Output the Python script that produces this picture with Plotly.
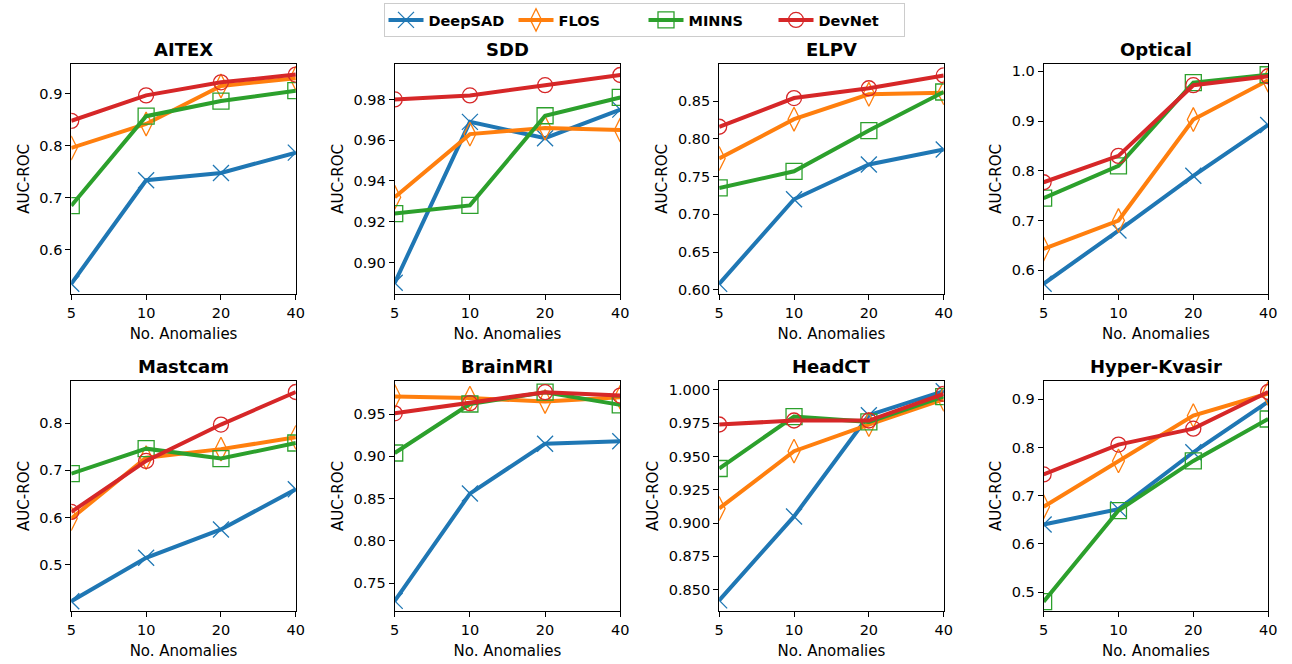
import plotly.graph_objects as go

x_labels = ["5", "10", "20", "40"]
datasets = ["AITEX", "SDD", "ELPV", "Optical", "Mastcam", "BrainMRI", "HeadCT", "Hyper-Kvasir"]
methods = ["DeepSAD", "FLOS", "MINNS", "DevNet"]

deepsad = {
    "AITEX": [0.535, 0.734, 0.748, 0.787],
    "SDD": [0.890, 0.969, 0.961, 0.975],
    "ELPV": [0.608, 0.720, 0.766, 0.786],
    "Optical": [0.573, 0.680, 0.790, 0.892],
    "Mastcam": [0.423, 0.515, 0.575, 0.660],
    "BrainMRI": [0.729, 0.856, 0.915, 0.918],
    "HeadCT": [0.842, 0.905, 0.981, 0.999],
    "Hyper-Kvasir": [0.640, 0.672, 0.790, 0.895],
}
flos = {
    "AITEX": [0.796, 0.842, 0.915, 0.930],
    "SDD": [0.932, 0.963, 0.966, 0.965],
    "ELPV": [0.774, 0.826, 0.859, 0.861],
    "Optical": [0.643, 0.700, 0.903, 0.982],
    "Mastcam": [0.598, 0.727, 0.745, 0.770],
    "BrainMRI": [0.971, 0.969, 0.965, 0.970],
    "HeadCT": [0.911, 0.954, 0.974, 0.993],
    "Hyper-Kvasir": [0.677, 0.772, 0.866, 0.912],
}
minns = {
    "AITEX": [0.685, 0.857, 0.886, 0.906],
    "SDD": [0.924, 0.928, 0.972, 0.981],
    "ELPV": [0.735, 0.757, 0.811, 0.862],
    "Optical": [0.745, 0.810, 0.977, 0.993],
    "Mastcam": [0.693, 0.746, 0.725, 0.758],
    "BrainMRI": [0.904, 0.962, 0.976, 0.961],
    "HeadCT": [0.941, 0.980, 0.976, 0.995],
    "Hyper-Kvasir": [0.480, 0.669, 0.772, 0.859],
}
devnet = {
    "AITEX": [0.848, 0.897, 0.922, 0.937],
    "SDD": [0.980, 0.982, 0.987, 0.992],
    "ELPV": [0.816, 0.854, 0.867, 0.884],
    "Optical": [0.777, 0.830, 0.972, 0.990],
    "Mastcam": [0.612, 0.720, 0.797, 0.866],
    "BrainMRI": [0.951, 0.963, 0.976, 0.972],
    "HeadCT": [0.974, 0.977, 0.977, 0.997],
    "Hyper-Kvasir": [0.744, 0.806, 0.839, 0.915],
}
series = [deepsad, flos, minns, devnet]

y_ranges = {
    "AITEX": [0.515, 0.958], "SDD": [0.8844, 0.9976], "ELPV": [0.5943, 0.8996],
    "Optical": [0.552, 1.0154], "Mastcam": [0.4017, 0.8899], "BrainMRI": [0.7167, 0.9896],
    "HeadCT": [0.8338, 1.0069], "Hyper-Kvasir": [0.460, 0.9385],
}
y_dtick = {"AITEX": 0.1, "SDD": 0.02, "ELPV": 0.05, "Optical": 0.1, "Mastcam": 0.1,
           "BrainMRI": 0.05, "HeadCT": 0.025, "Hyper-Kvasir": 0.1}
y_fmt = {"AITEX": ".1f", "SDD": ".2f", "ELPV": ".2f", "Optical": ".1f", "Mastcam": ".1f",
         "BrainMRI": ".2f", "HeadCT": ".3f", "Hyper-Kvasir": ".1f"}

colors = ["#1f77b4", "#ff7f0e", "#2ca02c", "#d62728"]
symbols = ["x-thin", "diamond-tall-open", "square-open", "circle-open"]
msizes = [16, 17, 16, 15]

W, H = 1292, 664
col_px = [(67, 294), (394, 622), (722, 949), (1050, 1277)]
row_px = [(64, 296), (383, 615)]

FONT = "DejaVu Sans"
fig = go.Figure()
annotations = []
layout = {}
for i, ds in enumerate(datasets):
    r, c = divmod(i, 4)
    ax = "" if i == 0 else str(i + 1)
    x0, x1 = col_px[c]
    t, b = row_px[r]
    xd = [x0 / W, x1 / W]
    yd = [1 - b / H, 1 - t / H]
    for m, (name, data) in enumerate(zip(methods, series)):
        fig.add_trace(go.Scatter(
            x=x_labels, y=data[ds], mode="lines+markers", name=name,
            legendgroup=name, showlegend=(i == 0),
            line=dict(color=colors[m], width=4),
            marker=dict(symbol=symbols[m], size=msizes[m], color=colors[m],
                        line=dict(color=colors[m], width=1.3)),
            xaxis="x" + ax, yaxis="y" + ax,
        ))
    layout["xaxis" + ax] = dict(
        domain=xd, anchor="y" + ax, type="category", range=[0, 3],
        showline=True, linecolor="black", linewidth=1, mirror=True,
        ticks="outside", ticklen=5, tickcolor="black", showgrid=False, zeroline=False,
        tickfont=dict(family=FONT, size=14.5, color="black"),
        title=dict(text="No. Anomalies", font=dict(family=FONT, size=15, color="black"), standoff=8),
    )
    layout["yaxis" + ax] = dict(
        domain=yd, anchor="x" + ax, range=y_ranges[ds], dtick=y_dtick[ds], tick0=0,
        tickformat=y_fmt[ds],
        showline=True, linecolor="black", linewidth=1, mirror=True,
        ticks="outside", ticklen=5, tickcolor="black", showgrid=False, zeroline=False,
        tickfont=dict(family=FONT, size=14.5, color="black"),
        title=dict(text="AUC-ROC", font=dict(family=FONT, size=15, color="black"), standoff=6),
    )
    annotations.append(dict(
        text="<b>" + ds + "</b>", x=(xd[0] + xd[1]) / 2, y=yd[1], xref="paper", yref="paper",
        xanchor="center", yanchor="bottom", yshift=2, showarrow=False,
        font=dict(family=FONT, size=18, color="black"),
    ))

fig.update_layout(
    width=W, height=H, margin=dict(l=0, r=0, t=0, b=0),
    plot_bgcolor="white", paper_bgcolor="white",
    annotations=annotations,
    showlegend=True,
    legend=dict(orientation="h", x=0.5, xanchor="center", y=0.9955, yanchor="top",
                font=dict(family=FONT, size=14.5, color="black", weight="bold"),
                bordercolor="#cccccc", borderwidth=1, bgcolor="white",
                itemwidth=35, entrywidth=80, entrywidthmode="pixels", tracegroupgap=0),
    **layout,
)
fig.write_html("out.html")
